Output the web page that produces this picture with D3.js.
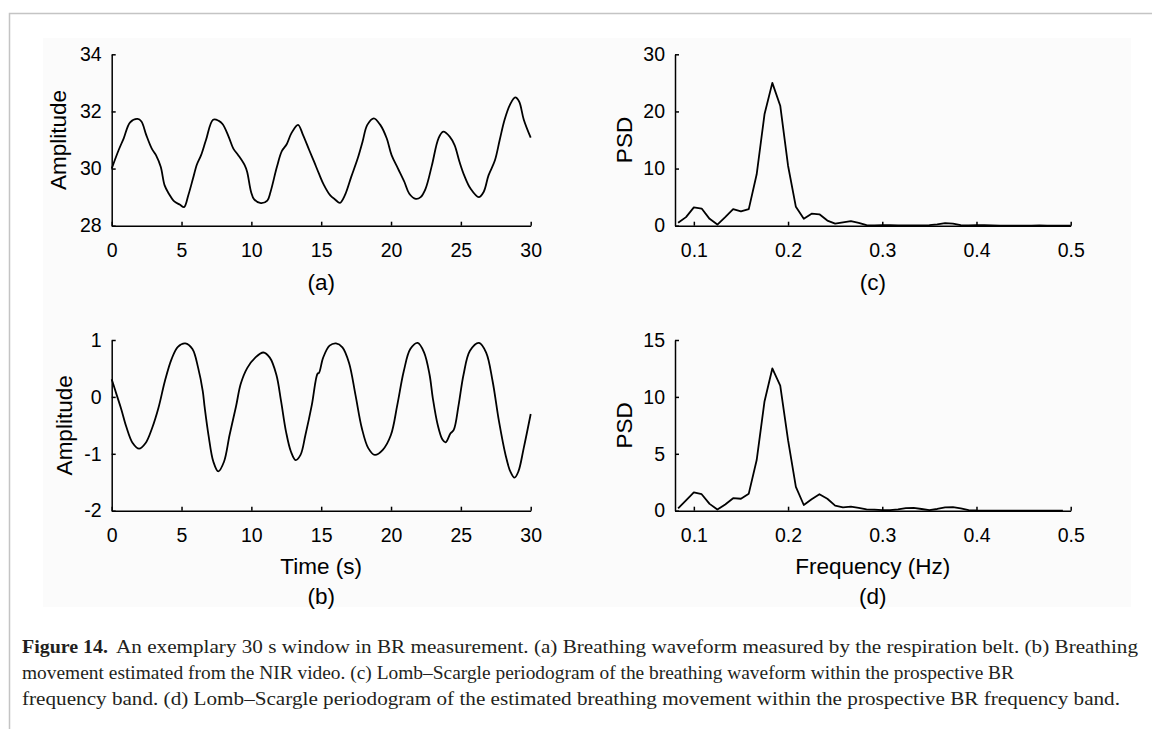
<!DOCTYPE html>
<html>
<head>
<meta charset="utf-8">
<script src="https://cdn.jsdelivr.net/npm/d3@7"></script>
<style>
  body { margin: 0; background: #fff; }
  svg { display: block; }
</style>
</head>
<body>
<div id="chart"></div>
<script>
// (a) breathing waveform from the belt
const timeA = [0, 0.5, 0.86, 1.32, 1.85, 2.13, 2.47, 2.87, 3.17, 3.51, 3.79, 4.09, 4.48, 4.9, 5.18, 5.48, 5.82, 6.1, 6.4, 6.75, 7.26, 7.67, 7.95, 8.37, 8.71, 9.06, 9.52, 9.7, 9.98, 10.2, 10.68, 11.14, 11.37, 11.83, 12.18, 12.53, 12.87, 13.34, 13.68, 14.14, 14.49, 14.84, 15.18, 15.65, 15.99, 16.34, 16.69, 17.15, 17.61, 17.96, 18.3, 18.77, 19.23, 19.69, 20.04, 20.5, 20.96, 21.31, 21.77, 22.12, 22.47, 22.93, 23.4, 23.74, 24.2, 24.55, 24.9, 25.24, 25.7, 26.28, 26.63, 26.98, 27.44, 27.78, 28.13, 28.52, 28.89, 29.17, 29.5, 30];
const ampA = [30.0, 30.65, 31.06, 31.62, 31.74, 31.65, 31.18, 30.7, 30.47, 30.06, 29.41, 29.12, 28.85, 28.73, 28.65, 29.06, 29.65, 30.14, 30.47, 31.0, 31.71, 31.67, 31.55, 31.12, 30.7, 30.47, 30.12, 29.88, 29.18, 28.92, 28.79, 28.88, 29.18, 30.06, 30.61, 30.85, 31.24, 31.53, 31.2, 30.65, 30.24, 29.82, 29.44, 29.06, 28.92, 28.8, 29.06, 29.71, 30.35, 30.94, 31.53, 31.76, 31.53, 31.06, 30.47, 30.0, 29.53, 29.12, 28.94, 29.0, 29.29, 30.12, 31.06, 31.29, 31.12, 30.82, 30.24, 29.76, 29.29, 29.0, 29.18, 29.76, 30.29, 31.0, 31.71, 32.24, 32.49, 32.35, 31.72, 31.08];

// (b) breathing movement from the NIR video
const timeB = [0, 0.35, 0.69, 1.04, 1.5, 1.96, 2.43, 2.89, 3.35, 3.81, 4.28, 4.74, 5.27, 5.78, 6.19, 6.52, 6.66, 6.93, 7.28, 7.63, 8.04, 8.44, 8.9, 9.24, 9.71, 10.28, 10.86, 11.32, 11.79, 12.13, 12.48, 12.83, 13.17, 13.52, 13.87, 14.33, 14.74, 14.84, 15.14, 15.6, 16.06, 16.52, 16.99, 17.45, 17.91, 18.37, 18.84, 19.41, 19.99, 20.45, 20.91, 21.38, 21.91, 22.37, 22.76, 22.99, 23.34, 23.68, 23.91, 24.26, 24.49, 24.84, 25.19, 25.65, 26.3, 26.81, 27.27, 27.73, 28.2, 28.54, 28.84, 29.12, 29.5, 30];
const ampB = [0.31, 0.04, -0.22, -0.52, -0.81, -0.91, -0.81, -0.55, -0.19, 0.28, 0.66, 0.88, 0.94, 0.84, 0.51, 0.1, -0.19, -0.67, -1.14, -1.31, -1.14, -0.67, -0.17, 0.23, 0.51, 0.69, 0.78, 0.69, 0.39, -0.08, -0.61, -0.96, -1.11, -1.02, -0.67, -0.14, 0.41, 0.42, 0.69, 0.9, 0.94, 0.87, 0.6, 0.04, -0.55, -0.9, -1.02, -0.93, -0.67, -0.14, 0.45, 0.84, 0.95, 0.78, 0.39, -0.02, -0.49, -0.75, -0.8, -0.64, -0.58, -0.14, 0.39, 0.81, 0.95, 0.78, 0.28, -0.43, -1.02, -1.31, -1.42, -1.31, -0.9, -0.3];

// (c), (d) Lomb-Scargle periodograms
const freqs = [0.0833, 0.0917, 0.1, 0.1083, 0.1167, 0.125, 0.1333, 0.1417, 0.15, 0.1583, 0.1667, 0.175, 0.1833, 0.1917, 0.2, 0.2083, 0.2167, 0.225, 0.2333, 0.2417, 0.25, 0.2583, 0.2667, 0.275, 0.2833, 0.2917, 0.3, 0.3083, 0.3167, 0.325, 0.3333, 0.3417, 0.35, 0.3583, 0.3667, 0.375, 0.3833, 0.3917, 0.4, 0.4083, 0.4167, 0.425, 0.4333, 0.4417, 0.45, 0.4583, 0.4667, 0.475, 0.4833, 0.4917, 0.5];
const psdC = [0.5, 1.5, 3.2, 3.0, 1.2, 0.2, 1.5, 2.9, 2.5, 2.9, 9.0, 19.5, 25.0, 21.0, 10.5, 3.3, 1.2, 2.1, 2.0, 0.9, 0.35, 0.6, 0.8, 0.5, 0.1, 0.05, 0.1, 0.1, 0.05, 0.05, 0.05, 0.05, 0.1, 0.25, 0.45, 0.35, 0.1, 0.05, 0.1, 0.1, 0.05, 0.03, 0.02, 0.02, 0.02, 0.03, 0.05, 0.03, 0.02, 0.02, 0.02];
const psdD = [0.2, 0.9, 1.6, 1.45, 0.6, 0.1, 0.55, 1.1, 1.05, 1.5, 4.45, 9.6, 12.5, 11.0, 6.2, 2.1, 0.5, 1.0, 1.45, 1.05, 0.45, 0.3, 0.35, 0.25, 0.12, 0.1, 0.05, 0.05, 0.12, 0.22, 0.25, 0.15, 0.05, 0.15, 0.3, 0.32, 0.2, 0.05, 0.02, 0.01, 0.01, 0.01, 0.01, 0.01, 0.01, 0.01, 0.01, 0.01, 0.01, 0.01];

const timeTicks = [0, 5, 10, 15, 20, 25, 30];
const freqTicks = [0.1, 0.2, 0.3, 0.4, 0.5];
const ticksA = [28, 30, 32, 34];
const ticksB = [-2, -1, 0, 1];
const ticksC = [0, 10, 20, 30];
const ticksD = [0, 5, 10, 15];

const caption = [
  ["Figure 14.", "An exemplary 30 s window in BR measurement. (a) Breathing waveform measured by the respiration belt. (b) Breathing"],
  ["", "movement estimated from the NIR video. (c) Lomb\u2013Scargle periodogram of the breathing waveform within the prospective BR"],
  ["", "frequency band. (d) Lomb\u2013Scargle periodogram of the estimated breathing movement within the prospective BR frequency band."]
];

const w = 1152, h = 729;
const font = "'Liberation Sans', Arial, sans-serif";

const svg = d3.select("#chart").append("svg")
  .attr("width", w)
  .attr("height", h);

// page frame and the faint image background
svg.append("rect")
  .attr("x", 43).attr("y", 38).attr("width", 1088).attr("height", 569)
  .attr("fill", "#fbfbfb");
svg.append("path")
  .attr("d", "M9.5," + h + " V13.5 H" + w)
  .attr("fill", "none")
  .attr("stroke", "#c4c4c4")
  .attr("stroke-width", 1.5);

const panels = [
  {x: timeA, y: ampA, xd: [0, 30], yd: [28, 34], xt: timeTicks, yt: ticksA, left: 111.7, right: 530.7, top: 54.3, bottom: 225.7, ylab: "Amplitude", yoff: -46, xlab: null, tag: "(a)", smooth: true},
  {x: timeB, y: ampB, xd: [0, 30], yd: [-2, 1], xt: timeTicks, yt: ticksB, left: 111.7, right: 530.7, top: 340, bottom: 510.7, ylab: "Amplitude", yoff: -40, xlab: "Time (s)", tag: "(b)", smooth: true},
  {x: freqs, y: psdC, xd: [0.08, 0.5], yd: [0, 30], xt: freqTicks, yt: ticksC, left: 675, right: 1070.7, top: 54.3, bottom: 225.7, ylab: "PSD", yoff: -43, xlab: null, tag: "(c)", smooth: false},
  {x: freqs.slice(0, psdD.length), y: psdD, xd: [0.08, 0.5], yd: [0, 15], xt: freqTicks, yt: ticksD, left: 675, right: 1070.7, top: 340, bottom: 510.7, ylab: "PSD", yoff: -43, xlab: "Frequency (Hz)", tag: "(d)", smooth: false}
];

panels.forEach(p => {
  const xScale = d3.scaleLinear().domain(p.xd).range([p.left, p.right]);
  const yScale = d3.scaleLinear().domain(p.yd).range([p.bottom, p.top]);
  const pts = p.x.map((d, i) => [d, p.y[i]]);

  const line = d3.line()
    .x(d => xScale(d[0]))
    .y(d => yScale(d[1]))
    .curve(p.smooth ? d3.curveCatmullRom.alpha(0.5) : d3.curveLinear);

  svg.append("path")
    .datum(pts)
    .attr("d", line)
    .attr("fill", "none")
    .attr("stroke", "#000")
    .attr("stroke-width", 1.8)
    .attr("stroke-linejoin", "round");

  const xAxis = d3.axisBottom(xScale)
    .tickValues(p.xt)
    .tickFormat(d => String(d))
    .tickSizeInner(-4)
    .tickSizeOuter(0)
    .tickPadding(17);

  const yAxis = d3.axisLeft(yScale)
    .tickValues(p.yt)
    .tickFormat(d => String(d))
    .tickSizeInner(-4)
    .tickSizeOuter(0)
    .tickPadding(10);

  [svg.append("g").attr("transform", "translate(0," + p.bottom + ")").call(xAxis),
   svg.append("g").attr("transform", "translate(" + p.left + ",0)").call(yAxis)]
    .forEach(g => {
      g.attr("font-family", font).attr("font-size", 19.5);
      g.selectAll("path, line").attr("stroke", "#000").attr("stroke-width", 1.5);
      g.selectAll("text").attr("fill", "#000");
    });

  svg.append("text")
    .attr("transform", "rotate(-90)")
    .attr("x", -(p.top + p.bottom) / 2)
    .attr("y", p.left + p.yoff)
    .attr("text-anchor", "middle")
    .attr("font-family", font)
    .attr("font-size", 22.5)
    .text(p.ylab);

  if (p.xlab) {
    svg.append("text")
      .attr("x", (p.left + p.right) / 2)
      .attr("y", p.bottom + 63)
      .attr("text-anchor", "middle")
      .attr("font-family", font)
      .attr("font-size", 22.5)
      .text(p.xlab);
  }

  svg.append("text")
    .attr("x", (p.left + p.right) / 2)
    .attr("y", p.bottom + (p.xlab ? 93 : 64))
    .attr("text-anchor", "middle")
    .attr("font-family", font)
    .attr("font-size", 22.5)
    .text(p.tag);
});

// caption
const capFont = "'Liberation Serif', 'DejaVu Serif', serif";
const lineEnds = [1138, 1014, 1120];
caption.forEach((c, i) => {
  const y = 653 + i * 26;
  let start = 22;
  if (c[0]) {
    svg.append("text")
      .attr("x", 22).attr("y", y)
      .attr("font-family", capFont)
      .attr("font-size", 19.5)
      .attr("font-weight", "bold")
      .attr("fill", "#231f20")
      .attr("textLength", 86)
      .attr("lengthAdjust", "spacingAndGlyphs")
      .text(c[0]);
    start = 116;
  }
  svg.append("text")
    .attr("x", start).attr("y", y)
    .attr("font-family", capFont)
    .attr("font-size", 19.5)
    .attr("fill", "#231f20")
    .attr("textLength", lineEnds[i] - start)
    .attr("lengthAdjust", "spacingAndGlyphs")
    .text(c[1]);
});
</script>
</body>
</html>
